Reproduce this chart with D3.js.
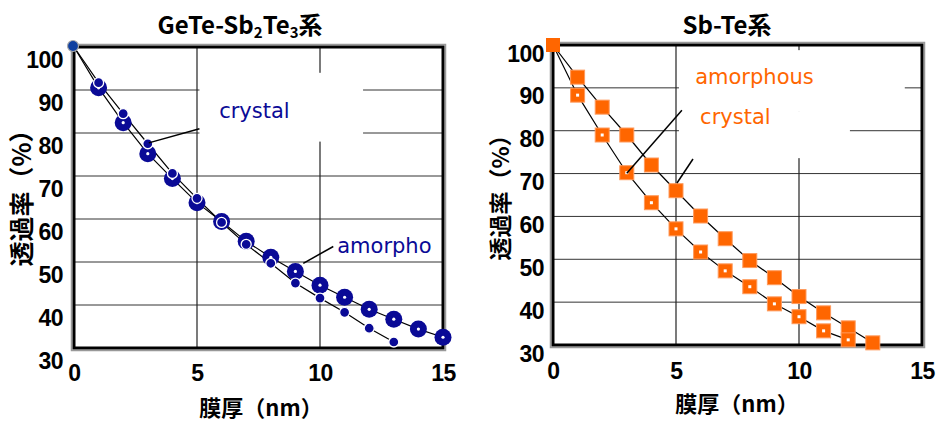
<!DOCTYPE html>
<html>
<head>
<meta charset="utf-8">
<script src="https://cdn.jsdelivr.net/npm/d3@7/dist/d3.min.js"></script>
<style>
  body { margin: 0; background: #fff; }
  text { font-family: "Liberation Sans", Arial, sans-serif; }
  .jp { font-family: "Noto Sans CJK JP", sans-serif; font-weight: bold; }
  .tick text { font-weight: bold; font-size: 23px; letter-spacing: -0.5px; fill: #000; }
  .label { font-family: "DejaVu Sans", sans-serif; font-size: 21px; }
</style>
</head>
<body>
<svg id="chart" width="942" height="422"></svg>
<script>
// film thickness (nm)
var thicknessGeTe = [0, 1, 2, 3, 4, 5, 6, 7, 8, 9, 10, 11, 12, 13, 14, 15];
var thicknessSbTe = [0, 1, 2, 3, 4, 5, 6, 7, 8, 9, 10, 11, 12, 13];

// transmittance (%)
var geteLarge = [100, 90.5, 82.4, 75.2, 69.4, 63.8, 59.4, 54.8, 51.1, 47.8, 44.6, 41.8, 39.0, 36.7, 34.4, 32.5];
var geteSmall = [100, 91.7, 84.5, 77.5, 70.6, 64.8, 59.2, 54.1, 49.7, 45.1, 41.6, 38.3, 34.6, 31.4];
var sbteSolid = [100, 92.5, 85.5, 79, 72, 66, 60.1, 54.8, 49.7, 45.7, 41.3, 37.5, 34, 30.5];
var sbteDotted = [100, 88.3, 79, 70.2, 63.2, 57.1, 51.7, 47.3, 43.6, 39.6, 36.6, 33.3, 31.2];

var xTicks = [0, 5, 10, 15];
var yTicks = [30, 40, 50, 60, 70, 80, 90, 100];
var xGrid = [5, 10];
var yGrid = [40, 50, 60, 70, 80, 90];

var navy = "#0a0a96",
    orange = "#ff6600";

var svg = d3.select("#chart");

var drawPanel = function (opt) {
    var x = d3.scaleLinear().domain([0, 15]).range(opt.xRange),
        y = d3.scaleLinear().domain([30, 100]).range(opt.yRange);
    var g = svg.append("g");

    // grid
    g.selectAll(".hgrid").data(yGrid).enter().append("line")
        .attr("x1", x(0)).attr("x2", x(15))
        .attr("y1", function (d) { return y(d); })
        .attr("y2", function (d) { return y(d); })
        .attr("stroke", "#333").attr("stroke-width", 1);
    g.selectAll(".vgrid").data(xGrid).enter().append("line")
        .attr("y1", y(100)).attr("y2", y(30))
        .attr("x1", function (d) { return x(d); })
        .attr("x2", function (d) { return x(d); })
        .attr("stroke", "#222").attr("stroke-width", 1.2);

    // blank areas behind the labels
    opt.boxes.forEach(function (b) {
        g.append("rect")
            .attr("x", x(b[0])).attr("y", y(b[3]))
            .attr("width", x(b[1]) - x(b[0]))
            .attr("height", y(b[2]) - y(b[3]))
            .attr("fill", "#fff");
    });

    // frame
    g.append("rect")
        .attr("x", x(0) - 2.5).attr("y", y(100) - 2.5)
        .attr("width", x(15) - x(0) + 5).attr("height", y(30) - y(100) + 5)
        .attr("fill", "none").attr("stroke", "#999").attr("stroke-width", 1.5);
    g.append("rect")
        .attr("x", x(0)).attr("y", y(100))
        .attr("width", x(15) - x(0)).attr("height", y(30) - y(100))
        .attr("fill", "none").attr("stroke", "#000").attr("stroke-width", 3);

    // axes
    var ya = g.append("g")
        .attr("transform", "translate(" + x(0) + ",0)")
        .call(d3.axisLeft(y).tickValues(yTicks).tickSize(0).tickPadding(opt.yPad));
    ya.select(".domain").remove();
    ya.selectAll("text").attr("dy", opt.yShift);

    var xa = g.append("g")
        .attr("transform", "translate(0," + y(30) + ")")
        .call(d3.axisBottom(x).tickValues(xTicks).tickSize(0).tickPadding(opt.xPad));
    xa.select(".domain").remove();

    // series
    var line = d3.line()
        .x(function (d) { return x(d[0]); })
        .y(function (d) { return y(d[1]); });
    opt.series.forEach(function (s) {
        g.append("path")
            .datum(d3.zip(s.xs, s.ys))
            .attr("d", line)
            .attr("fill", "none").attr("stroke", "#000").attr("stroke-width", 1.2);
    });
    opt.series.forEach(function (s) {
        s.draw(g.append("g"), d3.zip(s.xs, s.ys).slice(1), x, y);
    });
    // the shared starting point
    opt.start(g, x(0), y(100));

    // pointers
    opt.pointers.forEach(function (p) {
        g.append("line")
            .attr("x1", x(p[0])).attr("y1", y(p[1]))
            .attr("x2", x(p[2])).attr("y2", y(p[3]))
            .attr("stroke", "#000").attr("stroke-width", 1.5);
    });
    opt.labels.forEach(function (l) {
        g.append("text").attr("class", "label")
            .attr("x", x(l.x)).attr("y", y(l.y))
            .attr("fill", opt.color)
            .text(l.text);
    });

    // titles
    var t = g.append("text").attr("class", "jp")
        .attr("x", opt.titleX).attr("y", 34)
        .attr("text-anchor", "middle").attr("font-size", 24);
    opt.title.forEach(function (part) {
        var ts = t.append("tspan").text(part[0]);
        if (part[1]) ts.attr("font-size", 15).attr("dy", 4);
        else if (part[2]) ts.attr("dy", -4);
    });

    g.append("text").attr("class", "jp")
        .attr("x", opt.xTitleX).attr("y", opt.xTitleY)
        .attr("text-anchor", "middle").attr("font-size", 22)
        .text("膜厚（nm）");
    g.append("text").attr("class", "jp")
        .attr("transform", "translate(" + opt.yTitleX + ",192) rotate(-90)")
        .attr("text-anchor", "middle").attr("font-size", opt.yTitleSize)
        .text("透過率（%）");
};

// GeTe-Sb2Te3 panel
drawPanel({
    xRange: [74, 443], yRange: [348, 47],
    yPad: 11, yShift: "0.9em", xPad: 17,
    color: navy,
    boxes: [[5.1, 11.75, 78, 94]],
    series: [
        { xs: thicknessGeTe, ys: geteLarge, draw: function (sel, pts, x, y) {
            sel.selectAll("circle.big").data(pts).enter().append("circle")
                .attr("cx", function (d) { return x(d[0]); })
                .attr("cy", function (d) { return y(d[1]); })
                .attr("r", 8.5).attr("fill", navy);
            sel.selectAll("circle.hole").data(pts).enter().append("circle")
                .attr("cx", function (d) { return x(d[0]); })
                .attr("cy", function (d) { return y(d[1]); })
                .attr("r", 1.6).attr("fill", "#fff");
        } },
        { xs: thicknessGeTe, ys: geteSmall, draw: function (sel, pts, x, y) {
            sel.selectAll("circle").data(pts).enter().append("circle")
                .attr("cx", function (d) { return x(d[0]); })
                .attr("cy", function (d) { return y(d[1]); })
                .attr("r", 5).attr("fill", navy)
                .attr("stroke", "#fff").attr("stroke-width", 1.3);
        } }
    ],
    start: function (g, cx, cy) {
        g.append("circle").attr("cx", cx - 1).attr("cy", cy - 1).attr("r", 5.5)
            .attr("fill", "#1040a0").attr("stroke", "#aaa").attr("stroke-width", 1.2);
    },
    pointers: [[5.1, 81, 3.04, 77.7], [10.54, 53.6, 9.32, 49.7]],
    labels: [{ x: 5.9, y: 83.6, text: "crystal" }, { x: 10.7, y: 52, text: "amorpho" }],
    title: [["GeTe-Sb"], ["2", true], ["Te", false, true], ["3", true], ["系", false, true]],
    titleX: 240, xTitleX: 261, xTitleY: 416, yTitleX: 31, yTitleSize: 25
});

// Sb-Te panel
drawPanel({
    xRange: [553, 922], yRange: [345, 45],
    yPad: 9, yShift: "0.7em", xPad: 18,
    color: orange,
    boxes: [[5.12, 14.3, 84.4, 98.8], [5.12, 12.07, 73.6, 84.5]],
    series: [
        { xs: thicknessSbTe, ys: sbteSolid, draw: function (sel, pts, x, y) {
            sel.selectAll("rect").data(pts).enter().append("rect")
                .attr("x", function (d) { return x(d[0]) - 7; })
                .attr("y", function (d) { return y(d[1]) - 7; })
                .attr("width", 14).attr("height", 14)
                .attr("fill", orange).attr("stroke", "#ff9a5c").attr("stroke-width", 1);
        } },
        { xs: thicknessSbTe, ys: sbteDotted, draw: function (sel, pts, x, y) {
            sel.selectAll("rect.sq").data(pts).enter().append("rect")
                .attr("x", function (d) { return x(d[0]) - 7; })
                .attr("y", function (d) { return y(d[1]) - 7; })
                .attr("width", 14).attr("height", 14)
                .attr("fill", orange).attr("stroke", "#ff9a5c").attr("stroke-width", 1);
            sel.selectAll("rect.dot").data(pts).enter().append("rect")
                .attr("x", function (d) { return x(d[0]) - 1.5; })
                .attr("y", function (d) { return y(d[1]) - 1.5; })
                .attr("width", 3).attr("height", 3)
                .attr("fill", "#fff");
        } }
    ],
    start: function (g, cx, cy) {
        g.append("rect").attr("x", cx - 7).attr("y", cy - 7)
            .attr("width", 14).attr("height", 14).attr("fill", orange);
    },
    pointers: [[5.24, 84.8, 3.0, 70.1], [5.69, 73.4, 5.04, 67.8]],
    labels: [{ x: 5.78, y: 90.9, text: "amorphous" }, { x: 5.98, y: 81.6, text: "crystal" }],
    title: [["Sb-Te系"]],
    titleX: 727, xTitleX: 737, xTitleY: 412, yTitleX: 509, yTitleSize: 23
});
</script>
</body>
</html>
